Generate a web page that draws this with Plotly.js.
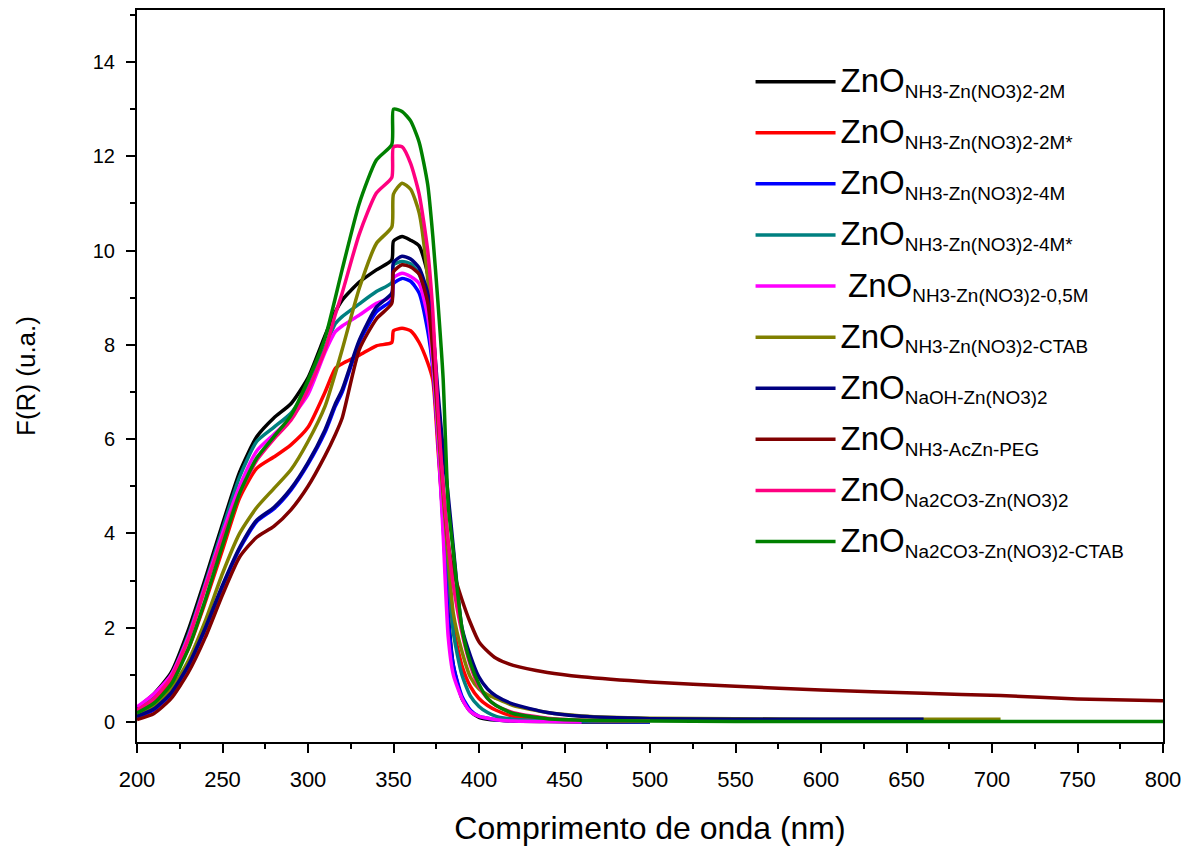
<!DOCTYPE html>
<html>
<head>
<meta charset="utf-8">
<script src="https://cdn.plot.ly/plotly-3.0.1.min.js"></script>
<style>
  html, body { margin: 0; padding: 0; background: #ffffff; }
  #chart { width: 1186px; height: 846px; }
</style>
</head>
<body>
<div id="chart"></div>
<script>
// Wavelength grid (nm)
const wavelength = [200,210,220,230,240,250,260,270,280,290,300,310,316,320,330,340,349,
  350,355,360,365,370,373,376,379,382,385,
  390,395,400,405,410,420,440,460,
  500,550,600,660,705,750,800];

// F(R) values
const zno_2M = [0.3,0.6,1.05,1.95,3.05,4.2,5.3,6.05,6.45,6.75,7.3,8.2,8.7,8.95,9.33,9.59,9.8,
  10.2,10.3,10.22,10.1,9.5,8.4,6.6,4.3,2.3,1.2,
  0.5,0.22,0.1,0.06,0.04,0.02,0.01,0.0,
  0.0,null,null,null,null,null,null];
const zno_2Mstar = [0.2,0.45,0.9,1.55,2.55,3.65,4.75,5.38,5.62,5.88,6.25,7.0,7.5,7.6,7.78,7.98,8.05,
  8.3,8.35,8.3,8.05,7.62,7.25,5.8,4.3,2.9,2.0,
  1.2,0.75,0.5,0.35,0.25,0.12,0.05,0.03,
  0.01,null,null,null,null,null,null];
const zno_4M = [0.1,0.26,0.6,1.18,1.97,2.87,3.67,4.25,4.52,4.92,5.47,6.15,6.7,7.0,8.05,8.7,8.95,
  9.3,9.41,9.35,9.1,8.3,7.5,6.0,4.2,2.2,1.2,
  0.55,0.25,0.12,0.08,0.05,0.03,0.02,0.01,
  0.0,null,null,null,null,null,null];
const zno_4Mstar = [0.25,0.55,1.0,1.85,2.95,4.1,5.2,5.95,6.25,6.55,7.1,7.95,8.45,8.6,8.87,9.13,9.32,
  9.7,9.77,9.72,9.5,8.8,8.0,6.5,4.8,3.3,1.9,
  1.0,0.55,0.33,0.2,0.12,0.06,0.03,0.02,
  0.01,null,null,null,null,null,null];
const zno_05M = [0.32,0.6,1.0,1.8,2.9,4.0,5.0,5.75,6.1,6.45,6.95,7.85,8.28,8.4,8.63,8.88,9.03,
  9.42,9.52,9.45,9.3,8.6,7.6,6.0,4.0,1.8,1.0,
  0.5,0.22,0.12,0.08,0.05,0.02,0.01,0.0,
  null,null,null,null,null,null,null];
const zno_CTAB = [0.15,0.33,0.7,1.3,2.15,3.15,4.0,4.55,4.95,5.35,5.95,6.7,7.4,7.9,9.2,10.15,10.5,
  11.2,11.43,11.3,10.8,9.4,7.9,6.3,4.8,3.5,2.3,
  1.5,0.95,0.7,0.58,0.5,0.35,0.2,0.13,
  0.08,0.07,0.06,0.06,0.06,null,null];
const zno_NaOH = [0.12,0.28,0.62,1.2,2.0,2.9,3.7,4.28,4.55,4.95,5.5,6.2,6.75,7.05,8.1,8.8,9.1,
  9.75,9.88,9.82,9.63,9.1,8.3,7.0,5.8,4.8,3.7,
  2.0,1.4,0.95,0.7,0.55,0.38,0.2,0.12,
  0.07,0.06,0.06,0.06,null,null,null];
const zno_PEG = [0.05,0.18,0.5,1.05,1.8,2.7,3.5,3.92,4.15,4.5,5.0,5.65,6.1,6.45,7.9,8.55,8.88,
  9.55,9.7,9.65,9.5,8.9,7.9,6.5,5.0,3.8,3.2,
  2.6,2.1,1.7,1.5,1.35,1.2,1.05,0.96,
  0.85,0.76,0.68,0.61,0.56,0.49,0.45];
const zno_Na2CO3 = [0.25,0.5,0.95,1.75,2.85,3.9,4.85,5.55,6.0,6.4,7.05,7.9,8.65,9.1,10.35,11.22,11.55,
  12.2,12.2,11.85,11.2,10.0,8.7,6.6,5.0,3.8,2.9,
  1.9,1.2,0.75,0.5,0.35,0.2,0.08,0.04,
  0.02,null,null,null,null,null,null];
const zno_Na2CO3_CTAB = [0.19,0.4,0.8,1.55,2.6,3.75,4.85,5.6,6.05,6.5,7.25,8.15,9.0,9.6,11.0,11.92,12.25,
  13.0,12.95,12.75,12.3,11.4,10.3,8.9,7.3,4.6,3.6,
  2.0,1.25,0.8,0.5,0.35,0.18,0.07,0.04,
  0.02,0.01,0.01,0.01,0.01,0.01,0.01];

const seriesSubscripts = [
  "NH3-Zn(NO3)2-2M",
  "NH3-Zn(NO3)2-2M*",
  "NH3-Zn(NO3)2-4M",
  "NH3-Zn(NO3)2-4M*",
  "NH3-Zn(NO3)2-0,5M",
  "NH3-Zn(NO3)2-CTAB",
  "NaOH-Zn(NO3)2",
  "NH3-AcZn-PEG",
  "Na2CO3-Zn(NO3)2",
  "Na2CO3-Zn(NO3)2-CTAB"
];
const seriesPrefix = ["", "", "", "", "&nbsp;", "", "", "", "", ""];
const seriesValues = [zno_2M, zno_2Mstar, zno_4M, zno_4Mstar, zno_05M, zno_CTAB,
  zno_NaOH, zno_PEG, zno_Na2CO3, zno_Na2CO3_CTAB];
const seriesColors = ["#000000","#FF0000","#0000FF","#008080","#FF00FF","#808000",
  "#000080","#800000","#FF0080","#008000"];

const traces = seriesValues.map((vals, i) => ({
  type: "scatter",
  mode: "lines",
  x: wavelength,
  y: vals,
  name: seriesPrefix[i] + "<span style='font-size:33px'>ZnO</span><sub>" + seriesSubscripts[i] + "</sub>",
  legendgroup: "g" + i,
  connectgaps: false,
  line: { color: seriesColors[i], width: 3.5, shape: "spline", smoothing: 0.6 }
}));

const layout = {
  width: 1186,
  height: 846,
  paper_bgcolor: "#ffffff",
  plot_bgcolor: "#ffffff",
  margin: { l: 137, r: 23, t: 10, b: 104 },
  showlegend: true,
  legend: {
    x: 0.598, y: 0.935, xanchor: "left", yanchor: "top",
    bgcolor: "rgba(0,0,0,0)",
    borderwidth: 0,
    tracegroupgap: 13,
    itemwidth: 80,
    font: { family: "Liberation Sans, Arial, sans-serif", size: 27, color: "#000000" }
  },
  xaxis: {
    range: [200, 800],
    dtick: 50, tick0: 200,
    ticks: "outside", ticklen: 9, tickwidth: 2, tickcolor: "#000000",
    ticklabelstandoff: 8,
    minor: { dtick: 25, ticks: "outside", ticklen: 5, tickwidth: 2, tickcolor: "#000000" },
    showline: true, linewidth: 2, linecolor: "#000000", mirror: true,
    showgrid: false, zeroline: false,
    tickfont: { family: "Liberation Sans, Arial, sans-serif", size: 22, color: "#000000" },
    title: { text: "Comprimento de onda (nm)", standoff: 26,
      font: { family: "Liberation Sans, Arial, sans-serif", size: 32, color: "#000000" } }
  },
  yaxis: {
    range: [-0.424, 15.103],
    dtick: 2, tick0: 0,
    ticks: "outside", ticklen: 9, tickwidth: 2, tickcolor: "#000000",
    ticklabelstandoff: 7,
    minor: { dtick: 1, ticks: "outside", ticklen: 5, tickwidth: 2, tickcolor: "#000000" },
    showline: true, linewidth: 2, linecolor: "#000000", mirror: true,
    showgrid: false, zeroline: false,
    tickfont: { family: "Liberation Sans, Arial, sans-serif", size: 20, color: "#000000" },
    title: { text: "F(R) (u.a.)", standoff: 50,
      font: { family: "Liberation Sans, Arial, sans-serif", size: 26, color: "#000000" } }
  }
};

Plotly.newPlot("chart", traces, layout, { staticPlot: true, displayModeBar: false });
</script>
</body>
</html>
